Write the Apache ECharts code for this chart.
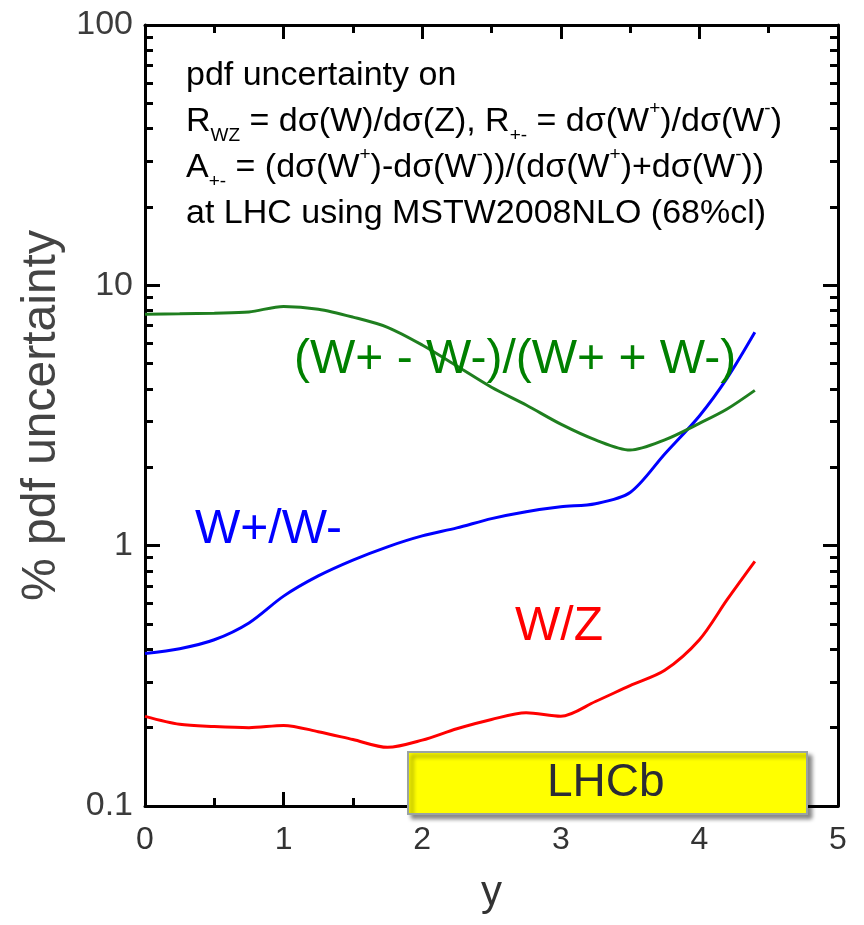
<!DOCTYPE html>
<html>
<head>
<meta charset="utf-8">
<script src="https://cdn.jsdelivr.net/npm/echarts@6/dist/echarts.min.js"></script>
<style>
  html, body { margin: 0; padding: 0; background: #fff; }
  #main { width: 864px; height: 925px; }
</style>
</head>
<body>
<div id="main"></div>
<script>
// rapidity points shared by all three curves
var yRap = [0, 0.25, 0.5, 0.75, 1, 1.25, 1.5, 1.75, 2, 2.25, 2.5, 2.75, 3, 3.25, 3.5, 3.75, 4, 4.2, 4.4];

// % pdf uncertainty
var ratioWZ = [0.221, 0.206, 0.202, 0.200, 0.204, 0.193, 0.180, 0.168, 0.179, 0.198, 0.215, 0.228, 0.221, 0.252, 0.290, 0.332, 0.435, 0.620, 0.870];
var ratioPM = [0.385, 0.402, 0.435, 0.505, 0.640, 0.765, 0.880, 0.990, 1.090, 1.170, 1.270, 1.350, 1.410, 1.450, 1.600, 2.250, 3.150, 4.400, 6.600];
var asymPM  = [7.75, 7.78, 7.82, 7.90, 8.30, 8.10, 7.55, 6.90, 5.90, 4.90, 4.06, 3.47, 2.93, 2.55, 2.33, 2.55, 2.95, 3.35, 3.95];

// minor ticks of the log axis
var yMinor = [0.2, 0.3, 0.4, 0.5, 0.6, 0.7, 0.8, 0.9,
              2, 3, 4, 5, 6, 7, 8, 9,
              20, 30, 40, 50, 60, 70, 80, 90];

function pairs(vals) {
    return yRap.map(function (x, i) { return [x, vals[i]]; });
}

var chart = echarts.init(document.getElementById('main'));

var sans = 'Liberation Sans, Arial, sans-serif';
var frame = { show: true, onZero: false, lineStyle: { color: '#000', width: 3 } };
var gridBox = { left: 145, right: 26, top: 25, bottom: 119, outerBoundsMode: 'none' };

function tick(len) {
    return { show: true, inside: true, length: len, lineStyle: { color: '#000', width: 3 } };
}

function xAxisDef(pos, labels) {
    var ax = {
        gridIndex: 0, type: 'value', min: 0, max: 5, interval: 1, position: pos,
        axisLine: frame, axisTick: tick(14),
        minorTick: { show: true, splitNumber: 2, length: 8, lineStyle: { color: '#000', width: 3 } },
        axisLabel: { show: false }, splitLine: { show: false }
    };
    if (labels) {
        ax.axisLabel = { show: true, margin: 18, color: '#333', fontSize: 32,
                         fontFamily: 'Liberation Sans Narrow, Liberation Sans, Arial, sans-serif' };
        ax.name = 'y';
        ax.nameLocation = 'middle';
        ax.nameGap = 66;
        ax.nameTextStyle = { color: '#333', fontSize: 42, fontFamily: sans };
    }
    return ax;
}

function yMajorDef(pos, labels) {
    var ax = {
        gridIndex: 0, type: 'log', logBase: 10, min: 0.1, max: 100, position: pos,
        axisLine: frame, axisTick: tick(15),
        axisLabel: { show: false }, splitLine: { show: false }
    };
    if (labels) {
        ax.axisLabel = { show: true, margin: 12, color: '#3c3c3c', fontSize: 34, fontFamily: sans,
                         formatter: function (v) { return String(v); } };
        ax.name = '% pdf uncertainty';
        ax.nameLocation = 'middle';
        ax.nameGap = 78;
        ax.nameTextStyle = { color: '#444', fontSize: 48, fontFamily: sans };
    }
    return ax;
}

function yMinorDef(pos) {
    var tk = tick(8);
    tk.customValues = yMinor;
    return {
        gridIndex: 1, type: 'log', logBase: 10, min: 0.1, max: 100, position: pos,
        axisLine: { show: false }, axisTick: tk,
        axisLabel: { show: false }, splitLine: { show: false }
    };
}

function tok(color, kind) {
    if (kind === 'sub') return { fontSize: 19, lineHeight: 18, color: color, fontFamily: sans, verticalAlign: 'bottom' };
    if (kind === 'sup') return { fontSize: 19, lineHeight: 30, color: color, fontFamily: sans, verticalAlign: 'top' };
    return { fontSize: 34, lineHeight: 46, color: color, fontFamily: sans };
}
var red = '#ff2020', blue = '#2020ff', green = '#2a8a2a';
var richAll = {
    k: tok('#222'),
    r: tok(red), rs: tok(red, 'sub'),
    b: tok(blue), bs: tok(blue, 'sub'), bp: tok(blue, 'sup'),
    g: tok(green), gs: tok(green, 'sub'), gp: tok(green, 'sup')
};

var option = {
    backgroundColor: '#fff',
    animation: false,
    grid: [Object.assign({}, gridBox), Object.assign({}, gridBox)],
    xAxis: [xAxisDef('bottom', true), xAxisDef('top', false),
            { gridIndex: 1, type: 'value', min: 0, max: 5, show: false }],
    yAxis: [yMajorDef('left', true), yMajorDef('right', false),
            yMinorDef('left'), yMinorDef('right')],
    series: [
        { name: 'W/Z', type: 'line', data: pairs(ratioWZ), smooth: 0.3, showSymbol: false,
          lineStyle: { color: '#ff0000', width: 3 }, z: 3 },
        { name: 'W+/W-', type: 'line', data: pairs(ratioPM), smooth: 0.3, showSymbol: false,
          lineStyle: { color: '#0000ff', width: 3 }, z: 3 },
        { name: 'A', type: 'line', data: pairs(asymPM), smooth: 0.3, showSymbol: false,
          lineStyle: { color: '#1f7f1f', width: 3 }, z: 3 }
    ],
    graphic: [
        { type: 'text', left: 186, top: 59, z: 10, style: {
            text: '{k|pdf uncertainty on}\n' +
                  '{r|R}{rs|WZ}{r| = dσ(W)/dσ(Z), }{b|R}{bs|+-}{b| = dσ(W}{bp|+}{b|)/dσ(W}{bp|-}{b|)}\n' +
                  '{g|A}{gs|+-}{g| = (dσ(W}{gp|+}{g|)-dσ(W}{gp|-}{g|))/(dσ(W}{gp|+}{g|)+dσ(W}{gp|-}{g|))}\n' +
                  '{k|at LHC using MSTW2008NLO (68%cl)}',
            rich: richAll } },
        { type: 'text', left: 294, top: 336, z: 10, style: {
            text: '(W+ - W-)/(W+ + W-)', fill: '#008000', fontSize: 48, fontFamily: sans } },
        { type: 'text', left: 195, top: 506, z: 10, style: {
            text: 'W+/W-', fill: '#0000ff', fontSize: 48, fontFamily: sans } },
        { type: 'text', left: 515, top: 603, z: 10, style: {
            text: 'W/Z', fill: '#ff0000', fontSize: 48, fontFamily: sans } },
        { type: 'rect', z: 20, shape: { x: 408, y: 752, width: 399, height: 62 },
          style: { fill: '#ffff00', stroke: '#9aa3a3', lineWidth: 2,
                   shadowColor: 'rgba(0,0,0,0.45)', shadowBlur: 4, shadowOffsetX: 4, shadowOffsetY: 4 } },
        { type: 'text', z: 21, left: 547, top: 760, style: {
            text: 'LHCb', fill: '#2b2b35', fontSize: 46, fontFamily: sans } }
    ]
};

chart.setOption(option);
</script>
</body>
</html>
